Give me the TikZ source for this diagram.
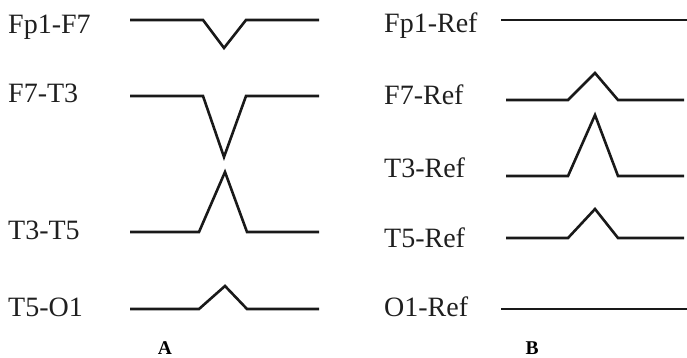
\documentclass[tikz,border=0pt]{standalone}
\usepackage{fontspec}
\setmainfont{Liberation Serif}
\begin{document}
\begin{tikzpicture}[x=1pt,y=-1pt,
  trace/.style={line width=2.6pt, line join=miter, color=black!90},
  chlabel/.style={anchor=base west, inner sep=0pt, font=\fontsize{28}{32}\selectfont, text=black!88},
  panel/.style={anchor=base, inner sep=0pt, font=\fontsize{19.5}{22}\selectfont\bfseries}]
\useasboundingbox (0,0) rectangle (687,357);
% left panel labels
\node[chlabel] (lfp1) at (8,33) {Fp1-F7};
\node[chlabel] (lf7) at (8,102) {F7-T3};
\node[chlabel] (lt3) at (8,239) {T3-T5};
\node[chlabel] (lt5) at (8,316) {T5-O1};
% left panel traces
\draw[trace] (130,20) -- (203,20) -- (224,48) -- (246,20) -- (319,20);
\draw[trace] (130,96) -- (203,96) -- (224,157) -- (246,96) -- (319,96);
\draw[trace] (130,232) -- (199,232) -- (225,172) -- (247,232) -- (319,232);
\draw[trace] (130,309) -- (199,309) -- (225,286) -- (247,309) -- (319,309);
\node[panel] (A) at (165,354) {A};
% right panel labels
\node[chlabel] (rfp1) at (384,32) {Fp1-Ref};
\node[chlabel] (rf7) at (384,104) {F7-Ref};
\node[chlabel] (rt3) at (384,177) {T3-Ref};
\node[chlabel] (rt5) at (384,247) {T5-Ref};
\node[chlabel] (ro1) at (384,316) {O1-Ref};
% right panel traces
\draw[trace] (501,20) -- (687,20);
\draw[trace] (506,100) -- (568,100) -- (595,73) -- (618,100) -- (684,100);
\draw[trace] (506,176) -- (568,176) -- (595,115) -- (618,176) -- (684,176);
\draw[trace] (506,238) -- (568,238) -- (595,209) -- (618,238) -- (684,238);
\draw[trace] (501,309) -- (687,309);
\node[panel] (B) at (532,354) {B};
\end{tikzpicture}
\end{document}
